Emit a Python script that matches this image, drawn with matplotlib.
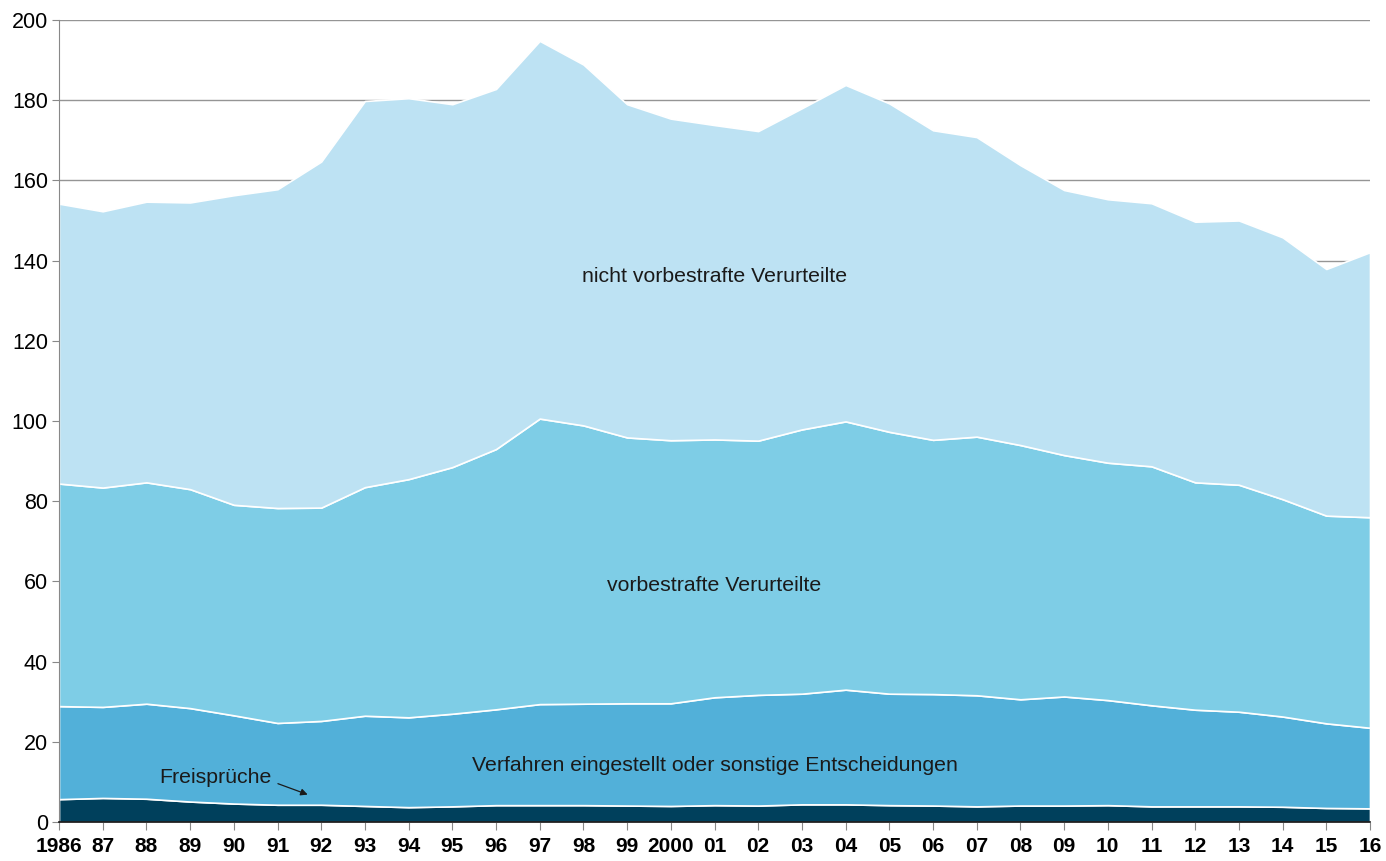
import matplotlib
matplotlib.use("Agg")
import matplotlib.pyplot as plt
from matplotlib import font_manager

years = list(range(1986, 2017))
year_labels = ["1986", "87", "88", "89", "90", "91", "92", "93", "94", "95", "96", "97", "98", "99", "2000",
               "01", "02", "03", "04", "05", "06", "07", "08", "09", "10", "11", "12", "13", "14", "15", "16"]

freisprueche = [5.7, 6.0, 5.8, 5.1, 4.6, 4.3, 4.3, 4.0, 3.7, 3.9, 4.2, 4.2, 4.2, 4.1, 4.0,
                4.2, 4.1, 4.4, 4.4, 4.2, 4.1, 3.9, 4.1, 4.1, 4.2, 3.9, 3.9, 3.9, 3.8, 3.5, 3.4]
verfahren = [23.2, 22.7, 23.7, 23.3, 22.0, 20.4, 20.9, 22.5, 22.4, 23.1, 23.9, 25.2, 25.3, 25.5, 25.6,
             26.9, 27.6, 27.6, 28.6, 27.8, 27.8, 27.7, 26.5, 27.2, 26.2, 25.2, 24.1, 23.6, 22.5, 21.1, 20.1]
vorbestrafte = [55.5, 54.7, 55.2, 54.6, 52.5, 53.6, 53.2, 57.0, 59.4, 61.5, 64.9, 71.2, 69.4, 66.3, 65.6,
                64.3, 63.4, 65.9, 66.9, 65.3, 63.4, 64.5, 63.4, 60.2, 59.2, 59.6, 56.7, 56.6, 54.2, 51.8, 52.5]
nicht_vorbestrafte = [69.8, 68.9, 70.0, 71.5, 77.2, 79.5, 86.3, 96.3, 95.0, 90.5, 89.8, 94.2, 90.0, 83.1, 80.2,
                      78.4, 77.2, 80.1, 83.9, 81.9, 77.2, 74.7, 69.8, 66.1, 65.7, 65.6, 65.0, 65.9, 65.3, 61.5, 66.1]

series_names = ["Freisprüche", "Verfahren eingestellt oder sonstige Entscheidungen",
                "vorbestrafte Verurteilte", "nicht vorbestrafte Verurteilte"]
colors = ["#00405c", "#52b0d9", "#7ecde6", "#bde2f3"]

avail = {f.name for f in font_manager.fontManager.ttflist}
fam = "Liberation Sans Narrow" if "Liberation Sans Narrow" in avail else "Liberation Sans"
plt.rcParams["font.family"] = [fam, "DejaVu Sans"]

fig = plt.figure(figsize=(13.86, 8.61), dpi=100)
ax = fig.add_axes([59/1386, 1-822/861, (1370-59)/1386, (822-20)/861])

ax.stackplot(years, freisprueche, verfahren, vorbestrafte, nicht_vorbestrafte,
             colors=colors, edgecolor="white", linewidth=1.2, zorder=2)

ax.set_xlim(1986, 2016)
ax.set_ylim(0, 200)
ax.set_yticks(range(0, 201, 20))
ax.set_xticks(years)
ax.set_xticklabels(year_labels, fontweight="bold", fontsize=15)
ax.tick_params(axis="y", labelsize=15.5, length=5, color="#888888", width=0.8, pad=3)
ax.tick_params(axis="x", length=6, color="#888888", width=0.8, pad=5)
ax.grid(axis="y", color="#959595", linewidth=1.0, zorder=0)
ax.set_axisbelow(True)
for s in ["top", "right"]:
    ax.spines[s].set_visible(False)
ax.spines["left"].set_color("#888888")
ax.spines["left"].set_linewidth(0.8)
ax.spines["bottom"].set_color("#111111")
ax.spines["bottom"].set_linewidth(1.2)
ax.spines["bottom"].set_zorder(3)

fs = 15.3
ax.text(2001, 136, series_names[3], ha="center", va="center", fontsize=fs, color="#1a1a1a", zorder=4)
ax.text(2001, 59, series_names[2], ha="center", va="center", fontsize=fs, color="#1a1a1a", zorder=4)
ax.text(2001, 14, series_names[1], ha="center", va="center", fontsize=fs, color="#1a1a1a", zorder=4)
ax.text(1988.3, 11.2, series_names[0], ha="left", va="center", fontsize=fs, color="#1a1a1a", zorder=4)
ax.annotate("", xy=(1991.75, 6.6), xytext=(1990.95, 9.8),
            arrowprops=dict(arrowstyle="-|>", color="#1a1a1a", lw=0.9, mutation_scale=10), zorder=4)

fig.savefig("out.png", dpi=100)
